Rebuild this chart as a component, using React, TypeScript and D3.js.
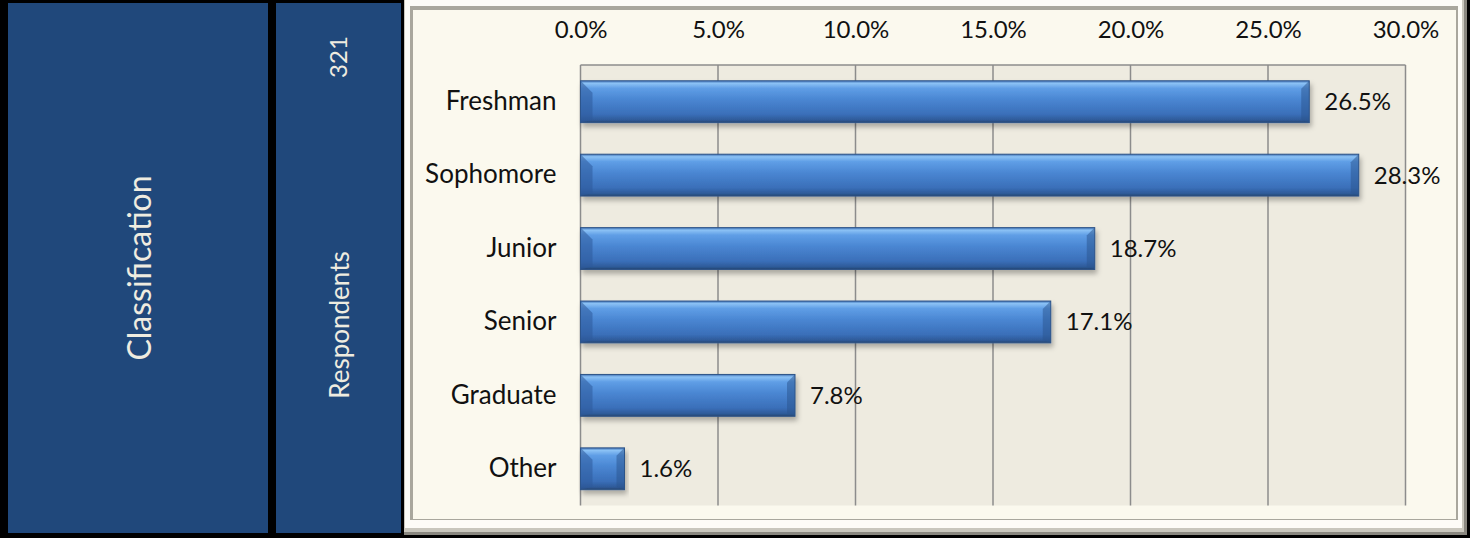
import React, { useRef, useEffect } from "react";
import * as d3 from "d3";

const WIDTH = 1470;
const HEIGHT = 538;
const PLOT = { left: 580.5, right: 1405.5, top: 65, bottom: 505.5 };

const categories = ["Freshman", "Sophomore", "Junior", "Senior", "Graduate", "Other"];
const shares = [26.5, 28.3, 18.7, 17.1, 7.8, 1.6];
const xTicks = [0, 5, 10, 15, 20, 25, 30];
const respondents = "321";

const FONT = "Lato, 'Open Sans', sans-serif";

export default function ClassificationChart() {
  const svgRef = useRef<SVGSVGElement | null>(null);

  useEffect(() => {
    const svg = d3.select(svgRef.current);
    svg.selectAll("*").remove();

    const defs = svg.append("defs");
    const grad = defs
      .append("linearGradient")
      .attr("id", "barGrad")
      .attr("x1", 0)
      .attr("x2", 0)
      .attr("y1", 0)
      .attr("y2", 1);
    [
      ["0%", "#3d6fb4"],
      ["6%", "#8cc2f5"],
      ["18%", "#5f9ee6"],
      ["45%", "#4a86d2"],
      ["80%", "#3a6fb9"],
      ["94%", "#2e5a98"],
      ["100%", "#25456f"],
    ].forEach(([o, c]) => grad.append("stop").attr("offset", o).attr("stop-color", c));

    const shadow = defs.append("filter").attr("id", "barShadow").attr("x", "-5%").attr("y", "-20%").attr("width", "115%").attr("height", "160%");
    shadow.append("feDropShadow").attr("dx", 2).attr("dy", 4).attr("stdDeviation", 2.5).attr("flood-color", "#000").attr("flood-opacity", 0.28);

    // background
    svg.append("rect").attr("width", WIDTH).attr("height", HEIGHT).attr("fill", "#000");

    // left blue panels
    svg.append("rect").attr("x", 8).attr("y", 3).attr("width", 260).attr("height", 530).attr("fill", "#20487b");
    svg.append("rect").attr("x", 276).attr("y", 3).attr("width", 125).attr("height", 530).attr("fill", "#20487b");

    svg
      .append("text")
      .attr("transform", "translate(151,268) rotate(-90)")
      .attr("text-anchor", "middle")
      .attr("font-family", FONT)
      .attr("font-size", 32)
      .attr("fill", "#efece0")
      .text("Classification");
    svg
      .append("text")
      .attr("transform", "translate(349,325) rotate(-90)")
      .attr("text-anchor", "middle")
      .attr("font-family", FONT)
      .attr("font-size", 26)
      .attr("fill", "#efece0")
      .text("Respondents");
    svg
      .append("text")
      .attr("transform", "translate(347,57) rotate(-90)")
      .attr("text-anchor", "middle")
      .attr("font-family", FONT)
      .attr("font-size", 24)
      .attr("fill", "#efece0")
      .text(respondents);

    // chart frame (bevel)
    svg.append("rect").attr("x", 404).attr("y", 0).attr("width", 1063).attr("height", 535).attr("fill", "#8a8880");
    svg.append("rect").attr("x", 404).attr("y", 0).attr("width", 1060).attr("height", 532).attr("fill", "#c9c7bd");
    svg.append("rect").attr("x", 405).attr("y", 0).attr("width", 1057).attr("height", 528).attr("fill", "#fdfcf7");
    svg.append("rect").attr("x", 410).attr("y", 6).attr("width", 1048).attr("height", 514).attr("fill", "#a9a79d");
    svg.append("rect").attr("x", 413).attr("y", 10).attr("width", 1043).attr("height", 509).attr("fill", "#fbf9ee");

    // scales
    const x = d3.scaleLinear().domain([0, 30]).range([PLOT.left, PLOT.right]);
    const y = d3
      .scaleBand<string>()
      .domain(categories)
      .range([PLOT.top, PLOT.bottom])
      .paddingInner(0.43)
      .paddingOuter(0.215);

    // plot area
    svg
      .append("rect")
      .attr("x", PLOT.left)
      .attr("y", PLOT.top)
      .attr("width", PLOT.right - PLOT.left)
      .attr("height", PLOT.bottom - PLOT.top)
      .attr("fill", "#eeebe0");

    // grid
    svg
      .append("g")
      .attr("class", "grid")
      .selectAll("line")
      .data(xTicks)
      .enter()
      .append("line")
      .attr("x1", (d) => x(d))
      .attr("x2", (d) => x(d))
      .attr("y1", PLOT.top)
      .attr("y2", PLOT.bottom)
      .attr("stroke", "#8c8c8c")
      .attr("stroke-width", 1.5);
    svg
      .append("line")
      .attr("x1", PLOT.left)
      .attr("x2", PLOT.right)
      .attr("y1", PLOT.top)
      .attr("y2", PLOT.top)
      .attr("stroke", "#8c8c8c")
      .attr("stroke-width", 1.5);

    // top axis
    const axis = svg
      .append("g")
      .attr("transform", `translate(0,${PLOT.top})`)
      .call(
        d3
          .axisTop(x)
          .tickValues(xTicks)
          .tickSize(0)
          .tickPadding(27)
          .tickFormat((d) => `${(+d).toFixed(1)}%`)
      );
    axis.select(".domain").remove();
    axis
      .selectAll("text")
      .attr("font-family", FONT)
      .attr("font-size", 24)
      .attr("fill", "#111");

    // category axis
    const yAxis = svg
      .append("g")
      .attr("transform", `translate(${PLOT.left},0)`)
      .call(d3.axisLeft(y).tickSize(0).tickPadding(24));
    yAxis.select(".domain").remove();
    yAxis
      .selectAll("text")
      .attr("font-family", FONT)
      .attr("font-size", 26)
      .attr("fill", "#111");

    // bars
    const bars = svg
      .append("g")
      .selectAll("g")
      .data(categories)
      .enter()
      .append("g");
    bars
      .append("rect")
      .attr("x", x(0))
      .attr("y", (d) => y(d)!)
      .attr("width", (d, i) => x(shares[i]) - x(0))
      .attr("height", y.bandwidth())
      .attr("fill", "url(#barGrad)")
      .attr("stroke", "#2f5488")
      .attr("stroke-width", 1)
      .attr("filter", "url(#barShadow)");
    // bevel on left end
    bars
      .append("path")
      .attr("d", (d) => {
        const y0 = y(d)!;
        const x0 = x(0);
        const b = y.bandwidth();
        return `M${x0},${y0} L${x0 + 12},${y0 + 12} L${x0 + 12},${y0 + b - 3} L${x0},${y0 + b} Z`;
      })
      .attr("fill", "#2d5a9a")
      .attr("opacity", 0.55);
    // bevel on right end
    bars
      .append("path")
      .attr("d", (d, i) => {
        const y0 = y(d)!;
        const x1 = x(shares[i]);
        const b = y.bandwidth();
        const w = Math.min(8, (x1 - x(0)) / 4);
        return `M${x1},${y0} L${x1 - w},${y0 + 8} L${x1 - w},${y0 + b - 3} L${x1},${y0 + b} Z`;
      })
      .attr("fill", "#2a538e")
      .attr("opacity", 0.5);

    // value labels
    bars
      .append("text")
      .attr("x", (d, i) => x(shares[i]) + 15)
      .attr("y", (d) => y(d)! + y.bandwidth() / 2)
      .attr("dy", "0.35em")
      .attr("font-family", FONT)
      .attr("font-size", 24)
      .attr("fill", "#111")
      .text((d, i) => `${shares[i].toFixed(1)}%`);
  }, []);

  return (
    <svg
      ref={svgRef}
      width={WIDTH}
      height={HEIGHT}
      style={{ position: "absolute", left: 0, top: 0, display: "block" }}
    />
  );
}
